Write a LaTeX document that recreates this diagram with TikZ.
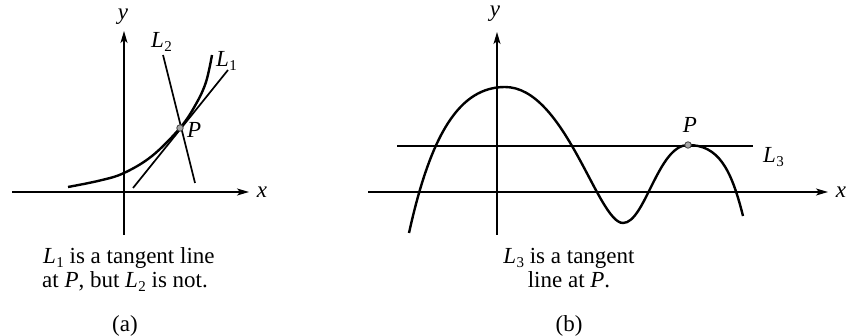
\documentclass[tikz,border=0pt]{standalone}
\usepackage{fontspec}
\setmainfont{Liberation Serif}
\usetikzlibrary{arrows.meta}
\newcommand{\Lsb}[1]{\textit{L}\kern0.4pt\raisebox{-3.6pt}{\fontsize{15}{15}\selectfont #1}}
\begin{document}
\begin{tikzpicture}[x=1pt,y=-1pt,
  axis/.style={line width=1.3pt,-{Stealth[length=12pt,width=7pt,inset=3pt]}},
  plain/.style={line width=1.7pt},
  curve/.style={line width=2.4pt},
  lbl/.style={font=\fontsize{23}{23}\selectfont\itshape,inner sep=0pt,anchor=base},
  tlbl/.style={font=\fontsize{23}{23}\selectfont,inner sep=0pt,anchor=base west},
  captext/.style={font=\fontsize{23}{23}\selectfont,inner sep=0pt,anchor=base},
  ptdot/.style={circle,draw=black!75,fill=black!35,line width=0.8pt,inner sep=0pt,minimum size=6.5pt}]
\useasboundingbox (0,0) rectangle (848,336);
% ---------- panel (a)
\coordinate (axs) at (12,192); \coordinate (axe) at (249,192);
\coordinate (ays) at (124,235); \coordinate (aye) at (124,31);
\draw[axis] (axs) -- (axe);
\draw[axis] (ays) -- (aye);
\node[lbl] (ax) at (262,198) {x};
\node[lbl] (ay) at (123,20) {y};
\draw[curve] plot[smooth,tension=0.6] coordinates {(68,187) (100,180.5) (124,173) (152,156) (180,128) (196,104) (206,82) (212,55)};
\coordinate (l1s) at (133,188); \coordinate (l1e) at (228,70);
\draw[plain] (l1s) -- (l1e);
\coordinate (l2s) at (163,55); \coordinate (l2e) at (195,183);
\draw[plain] (l2s) -- (l2e);
\node[ptdot] (Pa) at (180,128) {};
\node[tlbl] (PaL) at (187,138) {\textit{P}};
\node[tlbl] (L1) at (216,67) {\Lsb{1}};
\node[tlbl] (L2) at (151,48) {\Lsb{2}};
\node[tlbl] (capa1) at (43,264) {\Lsb{1} is a tangent line};
\node[tlbl] (capa2) at (42,288) {at \textit{P}, but \Lsb{2} is not.};
\node[captext] (taga) at (125,331) {(a)};
% ---------- panel (b)
\coordinate (bxs) at (368,192); \coordinate (bxe) at (828,192);
\coordinate (bys) at (497,235); \coordinate (bye) at (497,32);
\draw[axis] (bxs) -- (bxe);
\draw[axis] (bys) -- (bye);
\node[lbl] (bx) at (841,198) {x};
\node[lbl] (by) at (495,17) {y};
\coordinate (l3s) at (397,146); \coordinate (l3e) at (753,146);
\draw[plain] (l3s) -- (l3e);
\coordinate (cS) at (409,233);
\coordinate (cM) at (505,87);
\coordinate (cm) at (623,223);
\coordinate (cP) at (688,145);
\coordinate (cE) at (743,216);
\draw[curve] (cS) .. controls (431,133) and (460,87) .. (cM)
  .. controls (565,87) and (598,223) .. (cm)
  .. controls (645,223) and (658,145) .. (cP)
  .. controls (718,145) and (731,168) .. (cE);
\node[ptdot] (Pb) at (cP) {};
\node[lbl] (PbL) at (690,133) {P};
\node[tlbl] (L3) at (763,163) {\Lsb{3}};
\node[captext] (capb1) at (569,264) {\Lsb{3} is a tangent};
\node[captext] (capb2) at (569,288) {line at \textit{P}.};
\node[captext] (tagb) at (569,331) {(b)};
\end{tikzpicture}
\end{document}
